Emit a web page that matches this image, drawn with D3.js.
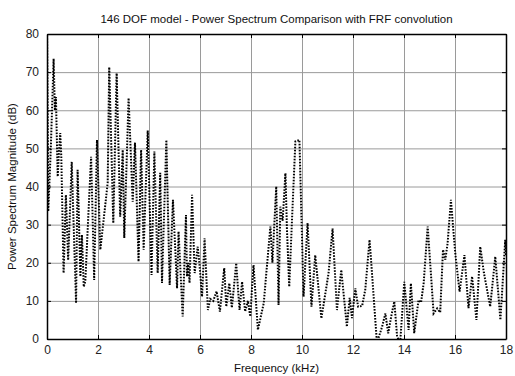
<!DOCTYPE html>
<html>
<head>
<meta charset="utf-8">
<script src="https://cdn.jsdelivr.net/npm/d3@7"></script>
<style>
  body { margin: 0; background: #fff; }
  svg { font-family: "Liberation Sans", Arial, sans-serif; }
</style>
</head>
<body>
<svg id="drawing_region"></svg>
<script>
// frequency (kHz) and magnitude (dB)
const freq = [0, 0.05, 0.15, 0.26, 0.31, 0.35, 0.42, 0.47, 0.52, 0.56, 0.65, 0.74, 0.83, 0.97, 1.14, 1.2, 1.31, 1.37, 1.44, 1.5, 1.73, 1.85, 1.96, 2.09, 2.25, 2.38, 2.44, 2.6, 2.73, 2.87, 2.97, 3.03, 3.2, 3.36, 3.45, 3.59, 3.69, 3.79, 3.95, 4.1, 4.21, 4.34, 4.44, 4.51, 4.68, 4.81, 4.94, 5.1, 5.16, 5.32, 5.45, 5.49, 5.54, 5.59, 5.69, 5.79, 5.91, 5.98, 6.08, 6.18, 6.31, 6.4, 6.52, 6.65, 6.78, 6.95, 7.03, 7.15, 7.25, 7.42, 7.55, 7.65, 7.77, 7.88, 7.97, 8.1, 8.27, 8.5, 8.69, 8.76, 8.84, 8.99, 9.08, 9.15, 9.24, 9.35, 9.41, 9.5, 9.6, 9.74, 9.9, 10.06, 10.22, 10.37, 10.52, 10.76, 11.04, 11.2, 11.37, 11.54, 11.76, 11.87, 11.96, 12.09, 12.2, 12.36, 12.48, 12.65, 12.94, 13.14, 13.27, 13.38, 13.5, 13.62, 13.73, 13.85, 14.01, 14.18, 14.27, 14.4, 14.57, 14.67, 14.77, 14.93, 15.16, 15.3, 15.42, 15.53, 15.62, 15.71, 15.84, 16.01, 16.18, 16.37, 16.53, 16.67, 16.84, 16.99, 17.13, 17.38, 17.58, 17.78, 17.97, 18];
const power = [82, 33.5, 50, 73.5, 60, 63.5, 42.6, 49, 54, 48, 17.3, 37.8, 20.7, 46.5, 9.4, 44.4, 16.4, 27.3, 13.7, 15, 47.8, 15.5, 52.2, 23.4, 33, 41, 71.3, 30.4, 69.7, 32.1, 49.6, 26.5, 63.2, 36, 51.5, 20.3, 49.6, 23.4, 54.7, 16.8, 49.2, 17.3, 43.6, 14.7, 52.2, 14.2, 36.5, 13.3, 28.2, 5.9, 32.5, 16.4, 20, 14.7, 37.8, 17.3, 24.2, 19.5, 11.1, 26.4, 7.6, 10.5, 10, 12.5, 7.2, 18.6, 8.5, 14.6, 8.2, 19.9, 7.6, 15, 7.2, 10, 5.9, 19.4, 2.4, 9.4, 24.2, 29.5, 20, 40, 8.9, 34.7, 31, 43.5, 28.6, 13.7, 30, 51.8, 52.2, 11.1, 30.4, 8.5, 22, 5.4, 17.2, 29, 7.6, 18.1, 3.2, 10.8, 5.5, 13.3, 8.5, 8.7, 12.9, 26, -1, 3.2, 6.7, 1.5, 6, 9.8, 0.6, -1, 15, 2.4, 14.6, 1.5, 10.2, 9.6, 14.6, 29.5, 6.7, 8, 7, 23.4, 20.8, 25.1, 36.5, 22.5, 12.4, 22, 8.1, 16.4, 5, 24.2, 17.5, 8.5, 21.6, 5, 26, 22];

const xTicks = [0, 2, 4, 6, 8, 10, 12, 14, 16, 18];
const yTicks = [0, 10, 20, 30, 40, 50, 60, 70, 80];

const config = {
    width: 515,
    height: 376,
    margin: {top: 34, right: 9, bottom: 37, left: 47}
};

const data = freq.map((f, i) => ({f: f, p: power[i]}));

const svg = d3.select('#drawing_region')
    .attr('width', config.width)
    .attr('height', config.height);

const inner_width = config.width - config.margin.left - config.margin.right;
const inner_height = config.height - config.margin.top - config.margin.bottom;

const chart = svg.append('g')
    .attr('transform', `translate(${config.margin.left}, ${config.margin.top})`);

const xscale = d3.scaleLinear().domain([0, 18]).range([0, inner_width]);
const yscale = d3.scaleLinear().domain([0, 80]).range([inner_height, 0]);

// grid
chart.append('g')
    .attr('class', 'grid')
    .attr('transform', `translate(0, ${inner_height})`)
    .call(d3.axisBottom(xscale).tickValues(xTicks).tickSize(-inner_height).tickFormat(''));
chart.append('g')
    .attr('class', 'grid')
    .call(d3.axisLeft(yscale).tickValues(yTicks).tickSize(-inner_width).tickFormat(''));
chart.selectAll('.grid line').attr('stroke', '#9a9a9a').attr('stroke-width', 1);
chart.selectAll('.grid .domain').remove();

// the spectrum
chart.append('clipPath').attr('id', 'clip')
    .append('rect').attr('width', inner_width).attr('height', inner_height);

const line = d3.line()
    .x(d => xscale(d.f))
    .y(d => yscale(d.p));

chart.append('path')
    .datum(data)
    .attr('clip-path', 'url(#clip)')
    .attr('fill', 'none')
    .attr('stroke', '#000')
    .attr('stroke-width', 2)
    .attr('stroke-dasharray', '1.6,1.4')
    .attr('d', line);

// axes with inward ticks on all four sides
const xaxis_group = chart.append('g')
    .attr('transform', `translate(0, ${inner_height})`)
    .call(d3.axisBottom(xscale).tickValues(xTicks).tickSizeInner(-4).tickSizeOuter(0).tickPadding(8));
const yaxis_group = chart.append('g')
    .call(d3.axisLeft(yscale).tickValues(yTicks).tickSizeInner(-4).tickSizeOuter(0).tickPadding(8));
chart.append('g')
    .call(d3.axisTop(xscale).tickValues(xTicks).tickSizeInner(-4).tickSizeOuter(0).tickFormat(''));
chart.append('g')
    .attr('transform', `translate(${inner_width}, 0)`)
    .call(d3.axisRight(yscale).tickValues(yTicks).tickSizeInner(-4).tickSizeOuter(0).tickFormat(''));

chart.selectAll('.domain').attr('stroke', '#000').attr('stroke-width', 1.5);
chart.selectAll('.tick text').attr('font-size', 12).attr('fill', '#222')
    .attr('font-family', '"Liberation Sans", Arial, sans-serif');
xaxis_group.selectAll('.tick text').attr('dy', '0.6em');

// labels
svg.append('text')
    .attr('x', config.margin.left + inner_width / 2)
    .attr('y', 23)
    .attr('text-anchor', 'middle')
    .attr('font-size', 11.5)
    .attr('fill', '#111')
    .text('146 DOF model - Power Spectrum Comparison with FRF convolution');

svg.append('text')
    .attr('x', config.margin.left + inner_width / 2)
    .attr('y', 372)
    .attr('text-anchor', 'middle')
    .attr('font-size', 11.5)
    .attr('fill', '#111')
    .text('Frequency (kHz)');

svg.append('text')
    .attr('transform', `translate(16, ${config.margin.top + inner_height / 2}) rotate(-90)`)
    .attr('text-anchor', 'middle')
    .attr('font-size', 11.5)
    .attr('fill', '#111')
    .text('Power Spectrum Magnitude (dB)');
</script>
</body>
</html>
